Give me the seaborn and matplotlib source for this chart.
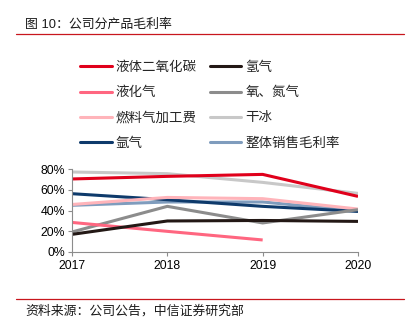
import numpy as np
import pandas as pd
import matplotlib
matplotlib.use("Agg")
import matplotlib.pyplot as plt
import seaborn as sns
from matplotlib.lines import Line2D

years = [2017, 2018, 2019, 2020]

liquid_co2 = [70.4, 72.9, 74.8, 53.6]
hydrogen = [17.0, 29.9, 30.4, 29.5]
lpg = [28.5, 19.9, 11.6, np.nan]
oxygen_nitrogen = [19.3, 44.0, 28.0, 40.8]
fuel_gas_fee = [45.8, 52.6, 51.4, 41.4]
dry_ice = [77.1, 75.5, 67.1, 56.5]
argon = [56.2, 50.4, 44.0, 39.1]
overall_margin = [45.0, 48.2, 48.2, 39.6]

series_names = ["液体二氧化碳", "氢气", "液化气", "氧、氮气",
                "燃料气加工费", "干冰", "氩气", "整体销售毛利率"]
series_values = [liquid_co2, hydrogen, lpg, oxygen_nitrogen,
                 fuel_gas_fee, dry_ice, argon, overall_margin]
series_colors = ["#E0001B", "#231815", "#FF6680", "#8C8C8C",
                 "#FFB4BA", "#C8C8C8", "#0E3A6B", "#7F9CBD"]

sns.set_theme(style="white")
plt.rcParams["font.family"] = ["Liberation Sans", "Noto Sans CJK SC", "DejaVu Sans"]

rows = []
for name, vals in zip(series_names, series_values):
    for y, v in zip(years, vals):
        rows.append({"year": y, "product": name, "margin": v})
df = pd.DataFrame(rows)

fig = plt.figure(figsize=(4.12, 3.26), dpi=100)
ax = fig.add_axes([72 / 412, 1 - 252 / 326, (358 - 72) / 412, (252 - 169) / 326])

palette = dict(zip(series_names, series_colors))
# later series in the list are drawn underneath earlier ones
for name in series_names[::-1]:
    sub = df[df["product"] == name].dropna()
    sns.lineplot(data=sub, x="year", y="margin", color=palette[name],
                 linewidth=2.2, ax=ax, legend=False, solid_capstyle="butt")

ax.set_xlim(2017, 2020)
ax.set_ylim(0, 80)
ax.set_xticks(years)
ax.set_xticklabels([str(y) for y in years])
ax.set_yticks([0, 20, 40, 60, 80])
ax.set_yticklabels([f"{v}%" for v in [0, 20, 40, 60, 80]])
ax.set_xlabel("")
ax.set_ylabel("")
for side in ["top", "right"]:
    ax.spines[side].set_visible(False)
for side in ["left", "bottom"]:
    ax.spines[side].set_color("#8C8C8C")
    ax.spines[side].set_linewidth(0.8)
ax.tick_params(axis="both", which="major", length=3, width=0.8, color="#8C8C8C",
               labelsize=8.8, labelcolor="#000000", pad=2, bottom=True, left=True)
ax.tick_params(axis="x", pad=3)

# legend reads row by row: reorder entries for matplotlib's column-major fill
order = [0, 2, 4, 6, 1, 3, 5, 7]
handles = [Line2D([0], [0], color=series_colors[i], linewidth=2.2) for i in order]
labels = [series_names[i] for i in order]
leg = fig.legend(handles, labels, ncol=2, loc="upper left",
                 bbox_to_anchor=(80 / 412, 1 - 61.5 / 326), frameon=False,
                 fontsize=9.7, handlelength=2.35, handletextpad=0.3,
                 columnspacing=0.95, labelspacing=0.95, borderaxespad=0,
                 borderpad=0)

fig.text(25 / 412, 1 - 25 / 326, "图 10：公司分产品毛利率", fontsize=9.3,
         va="center", ha="left", color="#1a1a1a")
fig.add_artist(Line2D([16 / 412, 404 / 412], [1 - 33.5 / 326, 1 - 33.5 / 326],
                      color="#C8161D", linewidth=0.9))
fig.add_artist(Line2D([16 / 412, 404 / 412], [1 - 298.5 / 326, 1 - 298.5 / 326],
                      color="#C8161D", linewidth=0.9))
fig.text(25 / 412, 1 - 311 / 326, "资料来源：公司公告，中信证券研究部", fontsize=9.3,
         va="center", ha="left", color="#1a1a1a")

fig.savefig("out.png", dpi=100)
